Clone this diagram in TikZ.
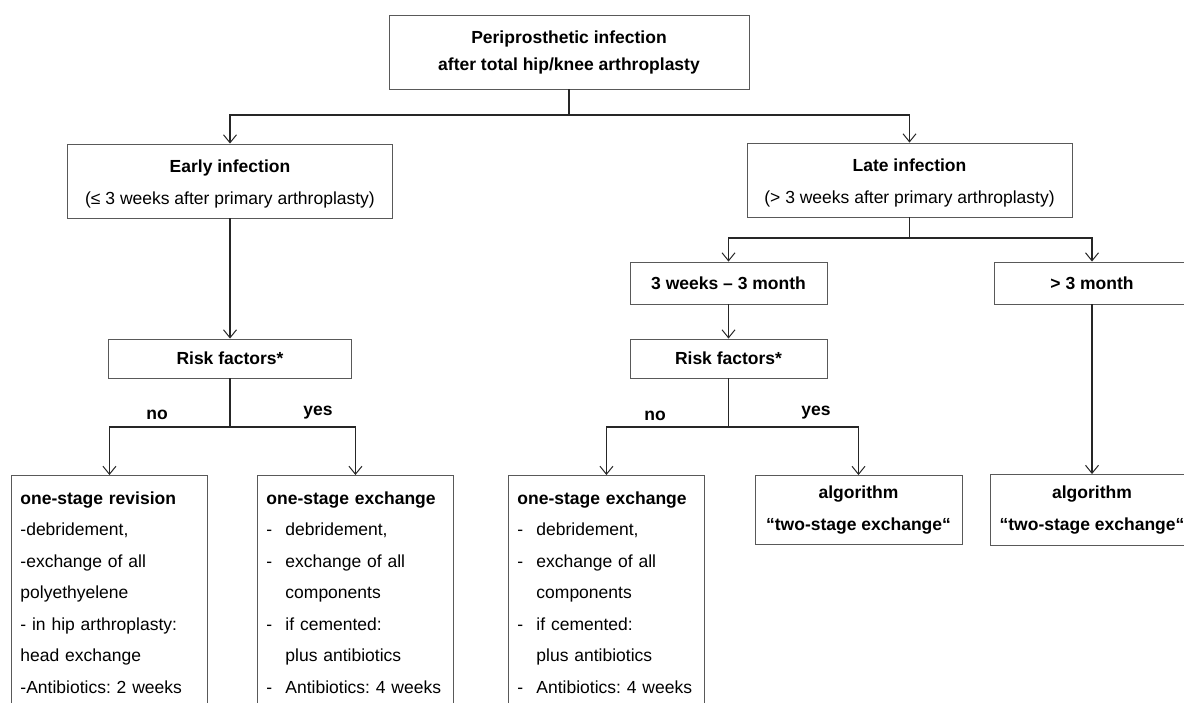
\documentclass[tikz,border=0pt]{standalone}
\usepackage{fontspec}
\setmainfont{Liberation Sans}
\usetikzlibrary{arrows.meta,positioning}
\frenchspacing

\definecolor{boxgray}{HTML}{595959}
\definecolor{linegray}{HTML}{262626}

\newcommand{\dashitem}[1]{\makebox[19pt][l]{-}#1}
\newcommand{\contitem}[1]{\hspace*{19pt}#1}
\newcommand{\boxtail}{\rule[-30pt]{0pt}{30pt}}

\begin{document}
\begin{tikzpicture}[x=1pt,y=-1pt,
  box/.style={draw=boxgray, line width=0.9pt, fill=white, align=center,
    inner sep=0pt, font=\fontsize{17.5}{32}\selectfont},
  listbox/.style={draw=boxgray, line width=0.9pt, fill=white, anchor=north west,
    align=left, text width=178pt, inner xsep=9pt, inner ysep=0pt,
    font=\fontsize{17.5}{31.5}\selectfont},
  lbl/.style={font=\fontsize{17.5}{19}\selectfont\bfseries, inner sep=0pt},
  link/.style={draw=linegray, line width=1.3pt},
  arrow/.style={link, -{Straight Barb[length=8pt,width=13pt,line width=1pt]}}]

  \clip (0,0) rectangle (1184,702);
  \useasboundingbox (0,0) rectangle (1184,702);

  % first level
  \node[box, minimum width=360pt, minimum height=74pt,
    font=\fontsize{17.5}{27}\selectfont] (top) at (569,52)
    {\textbf{Periprosthetic infection}\\ \textbf{after total hip/knee arthroplasty}};

  \node[box, minimum width=325pt, minimum height=74pt] (early) at (230,181)
    {\rule{0pt}{19pt}\textbf{Early infection}\\ (≤ 3 weeks after primary arthroplasty)};
  \node[box, minimum width=325pt, minimum height=74pt] (late) at (909.5,180)
    {\rule{0pt}{19pt}\textbf{Late infection}\\ (> 3 weeks after primary arthroplasty)};

  % late branches
  \node[box, minimum width=197pt, minimum height=42pt] (wk3) at (728.5,283)
    {\textbf{3 weeks – 3 month}};
  \node[box, minimum width=196pt, minimum height=42pt] (mo3) at (1092,283)
    {\textbf{> 3 month}};

  \node[box, minimum width=243pt, minimum height=39pt] (riskL) at (230,358.5)
    {\textbf{Risk factors*}};
  \node[box, minimum width=197pt, minimum height=39pt] (riskR) at (728.5,358.5)
    {\textbf{Risk factors*}};

  % bottom row
  \node[listbox] (revision) at (11,475)
    {\rule{0pt}{29pt}\textbf{one-stage revision}\\
     -debridement,\\
     -exchange of all\\
     polyethyelene\\
     - in hip arthroplasty:\\
     head exchange\\
     -Antibiotics: 2 weeks\boxtail};
  \node[listbox] (exchL) at (257,475)
    {\rule{0pt}{29pt}\textbf{one-stage exchange}\\
     \dashitem{debridement,}\\
     \dashitem{exchange of all}\\
     \contitem{components}\\
     \dashitem{if cemented:}\\
     \contitem{plus antibiotics}\\
     \dashitem{Antibiotics: 4 weeks}\boxtail};
  \node[listbox] (exchR) at (508,475)
    {\rule{0pt}{29pt}\textbf{one-stage exchange}\\
     \dashitem{debridement,}\\
     \dashitem{exchange of all}\\
     \contitem{components}\\
     \dashitem{if cemented:}\\
     \contitem{plus antibiotics}\\
     \dashitem{Antibiotics: 4 weeks}\boxtail};

  \node[box, minimum width=207pt, minimum height=69pt] (algoM) at (858.5,510)
    {\textbf{algorithm}\\ \textbf{“two-stage exchange“}};
  \node[box, minimum width=204pt, minimum height=71pt] (algoR) at (1092,510)
    {\textbf{algorithm}\\ \textbf{“two-stage exchange“}};

  % labels
  \node[lbl] (noL) at (157,415) {no};
  \node[lbl] (yesL) at (318,413) {yes};
  \node[lbl] (noR) at (655,416) {no};
  \node[lbl] (yesR) at (816,413) {yes};

  % junctions
  \coordinate (jTop) at (569,115);
  \coordinate (jLate) at (909.5,238);
  \coordinate (jRL) at (230,427);
  \coordinate (jRR) at (728.5,427);

  % connectors
  \draw[link] (top) -- (jTop);
  \draw[arrow] (jTop) -| (early);
  \draw[arrow] (jTop) -| (late);

  \draw[link] (late) -- (jLate);
  \draw[arrow] (jLate) -| (wk3);
  \draw[arrow] (jLate) -| (mo3);

  \draw[arrow] (early) -- (riskL);
  \draw[arrow] (wk3) -- (riskR);
  \draw[arrow] (mo3) -- (algoR);

  \draw[link] (riskL) -- (jRL);
  \draw[arrow] (jRL) -| (revision);
  \draw[arrow] (jRL) -| (exchL);

  \draw[link] (riskR) -- (jRR);
  \draw[arrow] (jRR) -| (exchR);
  \draw[arrow] (jRR) -| (algoM);
\end{tikzpicture}
\end{document}
